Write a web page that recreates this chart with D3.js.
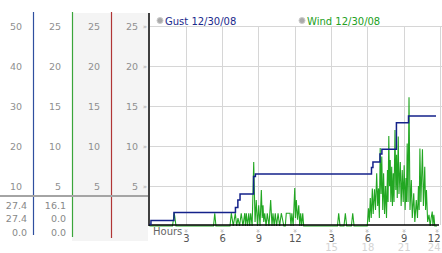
<!DOCTYPE html>
<html><head><meta charset="utf-8">
<script src="https://cdn.jsdelivr.net/npm/d3@7"></script>
<style>body{margin:0;background:#fff}svg{display:block}text{font-family:"DejaVu Sans",Verdana,sans-serif}</style>
</head><body>
<svg id="c" width="442" height="253"></svg>
<script>
// ---- data ----
const hourTicks = [3,6,9,12,15,18,21,24];
const hourLabels = ["3","6","9","12","3","6","9","12"];
const hourLabels24 = ["15","18","21","24"];
const col1Ticks = [10,20,30,40,50];
const col234Ticks = [5,10,15,20,25];
const col1Values = ["27.4","27.4","0.0"];
const col2Values = ["16.1","0.0","0.0"];
const legendNames = ["Gust 12/30/08","Wind 12/30/08"];
// gust step series (hour, value)
const gustHours = [0,0.12,2.02,7.1,7.3,7.48,8.6,8.75,18.34,18.46,19.04,19.2,20.4,21.4,23.67];
const gustValues = [0.2,0.7,1.7,2.3,3.25,4.0,6.2,6.5,7.3,8.0,9.0,9.6,12.9,13.75,13.75];
// wind series (hour, value)
const windHours = [0,1.90,2.05,2.19,5.29,5.39,5.49,6.65,6.76,6.92,7.09,7.20,7.31,7.44,7.58,7.72,7.87,7.93,8.00,8.10,8.20,8.28,8.36,8.48,8.61,8.72,8.82,8.92,9.02,9.13,9.24,9.31,9.38,9.44,9.52,9.63,9.73,9.87,10.01,10.12,10.20,10.30,10.39,10.50,10.62,10.75,10.89,11.10,11.22,11.30,11.61,11.69,11.76,11.87,12.00,12.06,12.13,12.23,12.33,12.41,12.49,12.57,12.66,12.74,15.53,15.63,15.74,16.07,16.18,16.29,16.68,16.79,16.90,17.99,18.09,18.16,18.24,18.32,18.41,18.48,18.59,18.67,18.77,18.85,18.92,18.99,19.06,19.13,19.19,19.27,19.34,19.42,19.50,19.58,19.66,19.71,19.77,19.83,19.89,19.94,20.01,20.07,20.14,20.20,20.28,20.35,20.41,20.47,20.55,20.61,20.72,20.79,20.88,20.96,21.04,21.12,21.19,21.23,21.29,21.36,21.44,21.52,21.63,21.71,21.83,21.92,22.04,22.14,22.22,22.28,22.34,22.42,22.48,22.55,22.63,22.74,22.81,22.88,22.98,23.09,23.19,23.27,23.36,23.42,23.49,23.57,23.75];
const windValues = [0,0,1.6,0,0,1.6,0,0,1.6,0,1.6,0,1.0,0,1.6,0,1.6,0,1.6,0,1.6,0,1.6,0,8.0,0.5,3.25,0,2.6,0,4.5,1.0,2.6,0.5,1.6,0,1.6,0,3.25,0,1.6,0,1.6,0,1.6,0,1.6,0,0,1.6,1.6,0,1.6,0,4.75,1.0,3.25,0.8,2.6,0,1.6,0,1.6,0,0,1.6,0,0,1.6,0,0,1.6,0,0,2.2,0.5,3.5,1.0,4.7,1.5,4.6,2.0,6.6,2.5,4.7,1.0,9.75,4.0,8.7,2.0,6.6,1.5,5.0,1.0,7.0,3.0,11.25,5.0,8.25,3.0,7.4,2.5,6.6,3.0,12.0,4.5,8.9,3.5,11.2,4.0,8.0,2.5,7.0,3.0,7.6,2.0,6.0,3.0,10.3,3.0,16.1,2.0,5.75,1.0,4.1,0.5,3.25,1.0,5.0,2.0,9.7,3.0,6.0,9.6,2.5,7.4,2.0,4.5,0.5,1.4,0,1.0,1.8,0,1.4,0,0];

// ---- scales ----
const svg = d3.select("#c");
const x = d3.scaleLinear().domain([0,24]).range([149.5,440]);
const y = d3.scaleLinear().domain([0,25]).range([226,26]);
const y50 = d3.scaleLinear().domain([0,50]).range([226,26]);

const gray = "#8f8f8f";

// left panel backgrounds
svg.append("rect").attr("x",72).attr("y",13).attr("width",76).attr("height",228).attr("fill","#f4f4f4");
// column lines
[[33,"#2f4f9f",235],[72,"#3aa53a",237],[111,"#b03535",238]].forEach(([cx,col,yb])=>{
  svg.append("line").attr("x1",cx+0.5).attr("x2",cx+0.5).attr("y1",12).attr("y2",yb).attr("stroke",col).attr("stroke-width",1.2);
});
// separator line
svg.append("line").attr("x1",0).attr("x2",148).attr("y1",196).attr("y2",196).attr("stroke","#a4a4a4").attr("stroke-width",2);

// left axes
function colAxis(scale, ticks, xr){
  const g = svg.append("g").attr("transform",`translate(${xr},0)`)
    .call(d3.axisLeft(scale).tickValues(ticks).tickSize(0).tickPadding(0));
  g.select(".domain").remove();
  g.selectAll("text").attr("fill",gray).attr("font-size",9.5).attr("font-family","DejaVu Sans");
}
colAxis(y50, col1Ticks, 22);
colAxis(y, col234Ticks, 61);
colAxis(y, col234Ticks, 100);
colAxis(y, col234Ticks, 138);
// small » marks on left panel edge
svg.selectAll(".lm").data(col234Ticks).enter().append("text")
  .attr("x",145).attr("y",d=>y(d)+2.5).attr("font-size",7).attr("fill","#aaa").attr("text-anchor","middle").text("»");

// current values
col1Values.forEach((v,i)=>svg.append("text").attr("x",27).attr("y",208.5+i*13.5).attr("text-anchor","end").attr("font-size",9.5).attr("fill","#888").text(v));
col2Values.forEach((v,i)=>svg.append("text").attr("x",66).attr("y",208.5+i*13.5).attr("text-anchor","end").attr("font-size",9.5).attr("fill","#888").text(v));

// grid
svg.append("g").selectAll("line").data(col234Ticks).enter().append("line")
  .attr("x1",150).attr("x2",442).attr("y1",d=>Math.round(y(d))+0.5).attr("y2",d=>Math.round(y(d))+0.5)
  .attr("stroke","#d6d6d6");
svg.append("g").selectAll("line").data(hourTicks).enter().append("line")
  .attr("x1",d=>Math.round(x(d))+0.5).attr("x2",d=>Math.round(x(d))+0.5).attr("y1",26).attr("y2",225)
  .attr("stroke","#d6d6d6");

// wind line
const windData = windHours.map((h,i)=>[h,windValues[i]]);
svg.append("path").datum(windData)
  .attr("d",d3.line().x(d=>x(d[0])).y(d=>y(d[1])))
  .attr("fill","none").attr("stroke","#22a722").attr("stroke-width",1.1);

// axes lines
svg.append("line").attr("x1",149).attr("x2",439).attr("y1",225).attr("y2",225).attr("stroke","#000").attr("stroke-width",1.5);
svg.append("line").attr("x1",149).attr("x2",149).attr("y1",13).attr("y2",226).attr("stroke","#000").attr("stroke-width",1.5);

// gust line
const gustData = gustHours.map((h,i)=>[h,gustValues[i]]);
svg.append("path").datum(gustData)
  .attr("d",d3.line().curve(d3.curveStepAfter).x(d=>x(d[0])).y(d=>y(d[1])))
  .attr("fill","none").attr("stroke","#14228a").attr("stroke-width",1.5);

// x axis labels
const xa = svg.append("g").attr("transform","translate(0,242)")
  .call(d3.axisBottom(x).tickValues(hourTicks).tickSize(0).tickPadding(0).tickFormat((d,i)=>hourLabels[i]));
xa.select(".domain").remove();
xa.selectAll("text").attr("fill","#555").attr("font-size",10).attr("font-family","DejaVu Sans").attr("dy","0");
xa.selectAll("text").filter((d,i)=>i===hourTicks.length-1).attr("text-anchor","end").attr("dx",0);
// tick marks (») rotated
svg.selectAll(".xm").data(hourTicks).enter().append("text")
  .attr("transform",d=>`translate(${Math.min(x(d),437)},231) rotate(90)`)
  .attr("font-size",7).attr("fill","#999").attr("text-anchor","middle").attr("dy","0.3em").text("»");
// 24h labels
const xb = svg.append("g").attr("transform","translate(0,251)")
  .call(d3.axisBottom(x).tickValues(hourTicks.slice(4)).tickSize(0).tickPadding(0).tickFormat((d,i)=>hourLabels24[i]));
xb.select(".domain").remove();
xb.selectAll("text").attr("fill","#d4d4d4").attr("font-size",10).attr("font-family","DejaVu Sans").attr("dy","0");
xb.selectAll("text").filter((d,i)=>i===3).attr("text-anchor","end").attr("dx",0);
svg.append("text").attr("x",153).attr("y",235).attr("font-size",10).attr("fill","#666").text("Hours");

// legend
const legendX = [160,302];
const legendCol = ["#1a2a8c","#22a022"];
legendNames.forEach((n,i)=>{
  svg.append("circle").attr("cx",legendX[i]).attr("cy",20.5).attr("r",3).attr("fill","#aaa").attr("stroke","#ccc");
  svg.append("text").attr("x",legendX[i]+5).attr("y",24.5).attr("font-size",10).attr("fill",legendCol[i]).text(n);
});
</script>
</body></html>
